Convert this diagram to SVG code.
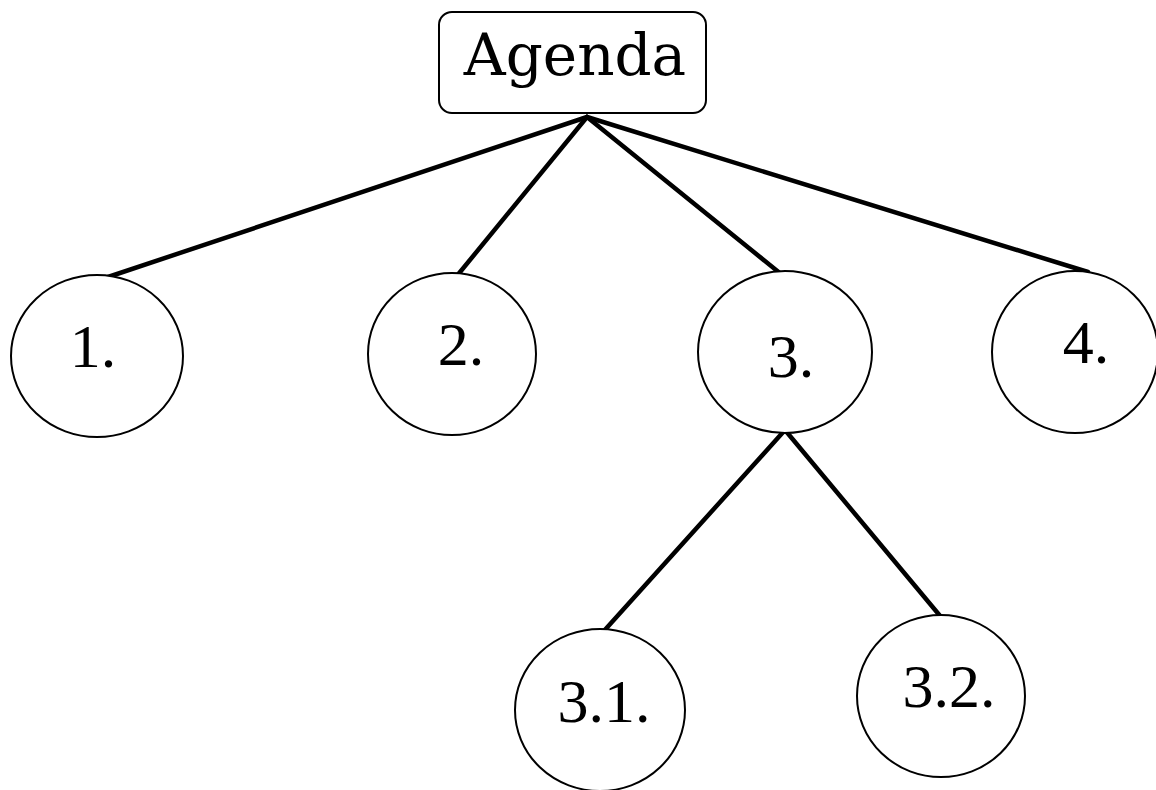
<svg xmlns="http://www.w3.org/2000/svg" width="1156" height="790" viewBox="0 0 1156 790">
  <style>
    .node { fill: #ffffff; stroke: #000000; stroke-width: 2; }
    .label { font-family: "Liberation Serif", "Times New Roman", serif; font-size: 62px; fill: #000000; text-anchor: middle; }
    .title { font-family: "DejaVu Serif", "Liberation Serif", serif; font-size: 58px; fill: #000000; text-anchor: middle; }
    .edge { stroke: #000000; stroke-width: 4.5; stroke-linecap: round; fill: none; }
  </style>
  <rect width="1156" height="790" fill="#ffffff"/>

  <!-- tree edges -->
  <g id="connectors">
    <line class="edge" x1="587" y1="117" x2="102" y2="279"/>
    <line class="edge" x1="587" y1="117" x2="456" y2="277"/>
    <line class="edge" x1="587" y1="117" x2="781" y2="274"/>
    <line class="edge" x1="587" y1="117" x2="1088" y2="272"/>
    <line class="edge" x1="785" y1="430" x2="603" y2="632"/>
    <line class="edge" x1="785" y1="430" x2="941" y2="617"/>
  </g>

  <g id="agenda">
    <rect class="node" x="439" y="12" width="267" height="101" rx="13" ry="13"/>
    <text class="title" x="575" y="75">Agenda</text>
  </g>

  <g id="item-1">
    <ellipse class="node" cx="97" cy="356" rx="86" ry="81"/>
    <text class="label" x="93" y="367">1.</text>
  </g>

  <g id="item-2">
    <ellipse class="node" cx="452" cy="354" rx="84" ry="81"/>
    <text class="label" x="461" y="365">2.</text>
  </g>

  <g id="item-3">
    <ellipse class="node" cx="785" cy="352" rx="87" ry="81"/>
    <text class="label" x="791" y="377">3.</text>
  </g>

  <g id="item-4">
    <ellipse class="node" cx="1075" cy="352" rx="83" ry="81"/>
    <text class="label" x="1086" y="363">4.</text>
  </g>

  <g id="item-3-1">
    <ellipse class="node" cx="600" cy="710" rx="85" ry="81"/>
    <text class="label" x="604" y="722">3.1.</text>
  </g>

  <g id="item-3-2">
    <ellipse class="node" cx="941" cy="696" rx="84" ry="81"/>
    <text class="label" x="949" y="707">3.2.</text>
  </g>
</svg>
